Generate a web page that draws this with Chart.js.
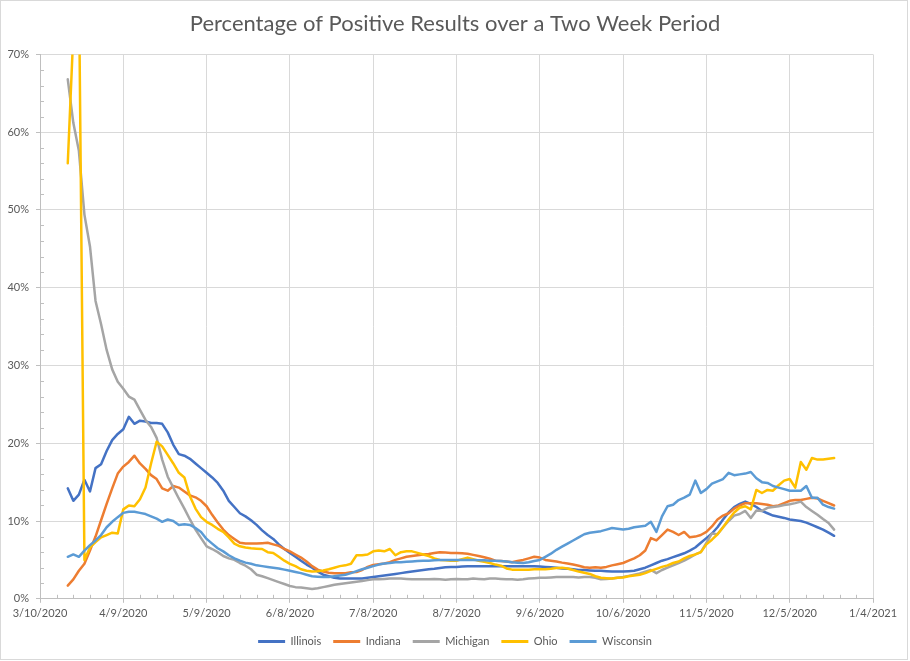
<!DOCTYPE html>
<html>
<head>
<meta charset="utf-8">
<title>Percentage of Positive Results over a Two Week Period</title>
<script src="https://cdn.jsdelivr.net/npm/chart.js@4.4.0/dist/chart.umd.min.js"></script>
<style>
  body { margin: 0; background: #fff; }
  canvas { display: block; }
</style>
</head>
<body>
<canvas id="positivity_chart" width="910" height="661"></canvas>
<script>
// x values are days counted from 3/10/2020, one reading every 2nd day (3/20/2020 .. 12/21/2020)
const days = [];
for (let d = 10; d <= 286; d += 2) days.push(d);

// labels for the major ticks, every 30 days
const dateTicks = ['3/10/2020', '4/9/2020', '5/9/2020', '6/8/2020', '7/8/2020', '8/7/2020',
                   '9/6/2020', '10/6/2020', '11/5/2020', '12/5/2020', '1/4/2021'];

const states = ['Illinois', 'Indiana', 'Michigan', 'Ohio', 'Wisconsin'];
const stateColors = ['#4472C4', '#ED7D31', '#A5A5A5', '#FFC000', '#5B9BD5'];

// percent positive
const illinois = [
    14.2, 12.6, 13.4, 15.3, 13.8, 16.8, 17.3, 19.0, 20.4, 21.2,
    21.8, 23.4, 22.5, 22.9, 22.8, 22.6, 22.6, 22.5, 21.4, 19.8,
    18.6, 18.4, 18.0, 17.4, 16.8, 16.2, 15.6, 14.9, 13.9, 12.6,
    11.8, 11.0, 10.6, 10.1, 9.5, 8.8, 8.2, 7.7, 7.0, 6.4,
    5.9, 5.4, 4.9, 4.4, 4.0, 3.5, 3.1, 2.9, 2.7, 2.6,
    2.6, 2.6, 2.6, 2.6, 2.7, 2.8, 2.9, 3.0, 3.1, 3.2,
    3.3, 3.4, 3.5, 3.6, 3.7, 3.8, 3.85, 3.95, 4.05, 4.1,
    4.1, 4.15, 4.2, 4.2, 4.2, 4.2, 4.2, 4.2, 4.2, 4.2,
    4.2, 4.2, 4.2, 4.2, 4.2, 4.15, 4.1, 4.05, 4.0, 3.9,
    3.85, 3.8, 3.7, 3.7, 3.65, 3.6, 3.6, 3.55, 3.5, 3.5,
    3.5, 3.55, 3.6, 3.8, 4.0, 4.3, 4.6, 4.9, 5.1, 5.35,
    5.6, 5.85, 6.2, 6.6, 7.2, 7.8, 8.4, 9.2, 10.2, 11.1,
    11.8, 12.2, 12.5, 12.2, 11.8, 11.3, 11.0, 10.7, 10.55, 10.4,
    10.2, 10.1, 10.0, 9.8, 9.5, 9.2, 8.9, 8.5, 8.1
];
const indiana = [
    1.7, 2.5, 3.6, 4.5, 6.2, 8.0, 10.1, 12.2, 14.2, 16.1,
    17.0, 17.6, 18.4, 17.4, 16.7, 15.9, 15.4, 14.2, 13.9, 14.5,
    14.3, 13.8, 13.3, 13.05, 12.6, 11.9, 10.8, 9.8, 8.9, 8.2,
    7.7, 7.2, 7.1, 7.1, 7.1, 7.15, 7.2, 7.0, 6.8, 6.4,
    6.1, 5.7, 5.3, 4.8, 4.2, 3.75, 3.5, 3.35, 3.3, 3.3,
    3.3, 3.4, 3.45, 3.7, 4.1, 4.35, 4.45, 4.55, 4.7, 5.0,
    5.2, 5.4, 5.5, 5.6, 5.7, 5.75, 5.9, 6.0, 5.95, 5.9,
    5.9, 5.85, 5.8, 5.65, 5.5, 5.35, 5.15, 4.9, 4.85, 4.8,
    4.7, 4.85, 5.0, 5.2, 5.4, 5.3, 5.0, 4.9, 4.8, 4.65,
    4.55, 4.4, 4.25, 4.05, 4.0, 4.05, 4.0, 4.1, 4.3, 4.45,
    4.6, 4.9, 5.2, 5.6, 6.2, 7.8, 7.5, 8.2, 8.9, 8.6,
    8.2, 8.6, 7.9, 8.0, 8.2, 8.6, 9.3, 10.2, 10.7, 11.0,
    11.6, 12.0, 12.3, 12.3, 12.3, 12.2, 12.1, 11.9, 12.0, 12.3,
    12.6, 12.7, 12.7, 12.85, 13.0, 12.9, 12.6, 12.3, 12.0
];
const michigan = [
    66.8, 61.2, 57.6, 49.4, 45.3, 38.3, 35.3, 32.0, 29.5, 27.9,
    27.0, 26.0, 25.6, 24.3, 23.0, 22.1, 20.7, 17.9, 15.7, 14.3,
    12.9, 11.6, 10.2, 8.9, 7.8, 6.75, 6.4, 6.0, 5.5, 5.2,
    5.0, 4.6, 4.25, 3.8, 3.1, 2.9, 2.65, 2.4, 2.15, 1.9,
    1.65, 1.5, 1.45, 1.35, 1.25, 1.35, 1.5, 1.65, 1.8, 1.9,
    2.0, 2.1, 2.2, 2.3, 2.4, 2.5, 2.5, 2.55, 2.6, 2.6,
    2.6, 2.55, 2.5, 2.5, 2.5, 2.5, 2.55, 2.5, 2.45, 2.5,
    2.55, 2.5, 2.5, 2.6, 2.55, 2.5, 2.6, 2.6, 2.55, 2.5,
    2.5, 2.45, 2.5, 2.6, 2.65, 2.7, 2.7, 2.75, 2.8, 2.8,
    2.8, 2.8, 2.75, 2.8, 2.8, 2.7, 2.5, 2.55, 2.6, 2.7,
    2.8, 2.95, 3.1, 3.25, 3.5, 3.7, 3.3, 3.7, 4.0, 4.3,
    4.6, 4.9, 5.3, 5.7, 6.0, 7.2, 8.4, 8.3, 9.2, 10.0,
    10.7, 10.9, 11.3, 10.4, 11.35, 11.3, 11.7, 11.8, 11.9, 12.05,
    12.15, 12.3, 12.5, 11.8, 11.3, 10.8, 10.25, 9.75, 8.9
];
const ohio = [
    56.0, 72.7, 80.0, 5.0, 6.6, 7.3, 7.9, 8.2, 8.5, 8.4,
    11.5, 12.0, 11.9, 12.8, 14.3, 17.4, 20.2, 19.6, 18.5, 17.4,
    16.2, 15.6, 13.2, 11.6, 10.5, 9.9, 9.5, 9.0, 8.6, 7.9,
    7.1, 6.75, 6.6, 6.5, 6.45, 6.4, 6.0, 5.9, 5.4, 4.9,
    4.5, 4.2, 3.8, 3.6, 3.5, 3.55, 3.65, 3.8, 4.0, 4.2,
    4.3, 4.5, 5.6, 5.6, 5.7, 6.1, 6.2, 6.1, 6.4, 5.6,
    6.0, 6.1, 6.1, 5.9, 5.7, 5.5, 5.2, 5.0, 4.95, 4.9,
    4.9, 5.1, 5.3, 5.1, 4.9, 4.75, 4.6, 4.4, 4.25, 3.9,
    3.75, 3.75, 3.75, 3.75, 3.8, 3.8, 3.8, 3.85, 3.95, 4.0,
    3.9, 3.7, 3.5, 3.35, 3.2, 2.9, 2.7, 2.65, 2.6, 2.7,
    2.75, 2.9, 3.0, 3.1, 3.3, 3.6, 3.85, 4.1, 4.3, 4.6,
    4.8, 5.2, 5.5, 5.7, 6.0, 7.0, 7.6, 8.3, 9.2, 10.2,
    11.1, 11.7, 11.9, 11.5, 14.0, 13.6, 14.0, 13.9, 14.6, 15.2,
    15.4, 14.3, 17.6, 16.6, 18.1, 17.9, 17.9, 18.0, 18.1
];
const wisconsin = [
    5.4, 5.7, 5.4, 6.2, 6.9, 7.5, 8.2, 9.2, 9.9, 10.5,
    11.05, 11.2, 11.2, 11.05, 10.9, 10.6, 10.3, 9.9, 10.2, 10.0,
    9.5, 9.6, 9.5, 9.1, 8.6, 7.7, 7.1, 6.5, 6.1, 5.6,
    5.2, 4.9, 4.65, 4.5, 4.3, 4.2, 4.1, 4.0, 3.9, 3.75,
    3.6, 3.45, 3.3, 3.1, 2.9, 2.85, 2.8, 2.8, 2.9, 3.0,
    3.1, 3.3, 3.55, 3.8, 4.0, 4.2, 4.4, 4.55, 4.6, 4.7,
    4.7, 4.75, 4.8, 4.85, 4.9, 4.9, 4.95, 5.0, 5.0, 5.0,
    5.0, 5.0, 5.0, 5.0, 4.95, 4.95, 4.9, 4.9, 4.85, 4.8,
    4.7, 4.65, 4.6, 4.7, 4.85, 5.0, 5.4, 5.8, 6.3, 6.7,
    7.1, 7.5, 7.9, 8.3, 8.5, 8.6, 8.7, 8.9, 9.1, 9.0,
    8.9, 9.0, 9.2, 9.3, 9.4, 9.9, 8.6, 10.6, 11.9, 12.1,
    12.7, 13.0, 13.4, 15.2, 13.6, 14.1, 14.8, 15.1, 15.4, 16.2,
    15.9, 16.0, 16.1, 16.3, 15.5, 15.0, 14.9, 14.5, 14.3, 14.1,
    13.9, 13.9, 13.9, 14.5, 13.0, 13.0, 12.1, 11.8, 11.6
];

const series = [illinois, indiana, michigan, ohio, wisconsin];

const GRID = '#D9D9D9';
const AXIS = '#BFBFBF';
const TEXT = '#595959';

Chart.defaults.font.family = 'Lato, "Open Sans", sans-serif';
Chart.defaults.color = TEXT;

// white page with the thin grey frame round the whole chart
const chartFrame = {
    id: 'chartFrame',
    beforeDraw: (chart) => {
        const ctx = chart.ctx;
        ctx.save();
        ctx.fillStyle = '#fff';
        ctx.fillRect(0, 0, chart.width, chart.height);
        ctx.strokeStyle = GRID;
        ctx.lineWidth = 1;
        ctx.strokeRect(0.5, 0.5, chart.width - 3, chart.height - 2);
        ctx.restore();
    }
};

// minor tick marks sit inside the plot, the major ones outside
const minorTicks = {
    id: 'minorTicks',
    beforeDatasetsDraw: (chart) => {
        const {ctx, chartArea, scales} = chart;
        ctx.save();
        ctx.strokeStyle = AXIS;
        ctx.lineWidth = 1;
        ctx.beginPath();
        scales.x.ticks.forEach((t) => {
            if (Math.round(t.value) % 30 === 0) return;
            const px = Math.round(scales.x.getPixelForValue(t.value)) + 0.5;
            ctx.moveTo(px, chartArea.bottom);
            ctx.lineTo(px, chartArea.bottom - 4);
        });
        scales.y.ticks.forEach((t) => {
            if (Math.round(t.value) % 10 === 0) return;
            const py = Math.round(scales.y.getPixelForValue(t.value)) + 0.5;
            ctx.moveTo(chartArea.left, py);
            ctx.lineTo(chartArea.left + 4, py);
        });
        ctx.stroke();
        ctx.restore();
    }
};

const isMajorX = (c) => c.tick && Math.round(c.tick.value) % 30 === 0;
const isMajorY = (c) => c.tick && Math.round(c.tick.value) % 10 === 0;

new Chart('positivity_chart', {
    type: 'line',
    data: {
        labels: days,
        datasets: states.map((name, i) => ({
            label: name,
            data: days.map((d, j) => ({x: d, y: series[i][j]})),
            borderColor: stateColors[i],
            backgroundColor: stateColors[i],
            borderWidth: 2.5,
            pointRadius: 0,
            pointHoverRadius: 0,
            tension: 0,
            fill: false,
            borderJoinStyle: 'round',
            borderCapStyle: 'round',
            // later series are drawn on top, like the original
            order: states.length - i
        }))
    },
    options: {
        responsive: false,
        animation: false,
        devicePixelRatio: 1,
        layout: {padding: {top: 0, left: 0, right: 0, bottom: 4}},
        plugins: {
            title: {
                display: true,
                text: 'Percentage of Positive Results over a Two Week Period',
                color: TEXT,
                font: {size: 22, weight: 'normal'},
                padding: {top: 11, bottom: 17}
            },
            legend: {
                position: 'bottom',
                labels: {
                    boxWidth: 27,
                    boxHeight: 3,
                    padding: 12,
                    color: TEXT,
                    font: {size: 11},
                    sort: (a, b) => a.datasetIndex - b.datasetIndex,
                    generateLabels: (chart) => Chart.defaults.plugins.legend.labels.generateLabels(chart)
                        .map((item) => ({...item, lineWidth: 0}))
                }
            },
            tooltip: {enabled: false}
        },
        scales: {
            x: {
                type: 'linear',
                min: 0,
                max: 300,
                afterFit: (scale) => { scale.paddingRight = 37; },
                ticks: {
                    stepSize: 6,
                    autoSkip: false,
                    maxRotation: 0,
                    minRotation: 0,
                    padding: 4,
                    color: TEXT,
                    font: {size: 11},
                    callback: (v) => Math.round(v) % 30 === 0 ? dateTicks[Math.round(v) / 30] : ''
                },
                grid: {
                    color: (c) => isMajorX(c) ? GRID : 'rgba(0,0,0,0)',
                    tickColor: (c) => isMajorX(c) ? AXIS : 'rgba(0,0,0,0)',
                    tickLength: 4
                },
                border: {color: AXIS}
            },
            y: {
                min: 0,
                max: 70,
                afterFit: (scale) => { scale.width = 40; },
                ticks: {
                    stepSize: 2,
                    autoSkip: false,
                    padding: 7,
                    color: TEXT,
                    font: {size: 11},
                    callback: (v) => Math.round(v) % 10 === 0 ? Math.round(v) + '%' : ''
                },
                grid: {
                    color: (c) => isMajorY(c) ? GRID : 'rgba(0,0,0,0)',
                    tickColor: (c) => isMajorY(c) ? AXIS : 'rgba(0,0,0,0)',
                    tickLength: 4
                },
                border: {color: AXIS}
            }
        }
    },
    plugins: [chartFrame, minorTicks]
});
</script>
</body>
</html>
